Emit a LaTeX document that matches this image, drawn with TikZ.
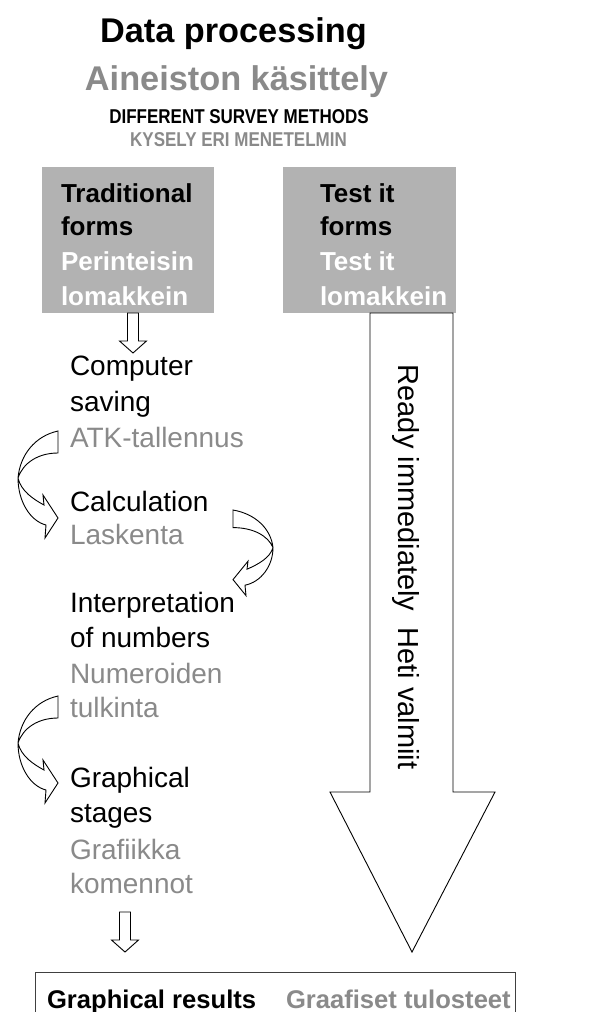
\documentclass[tikz,border=0pt]{standalone}
\usepackage{fontspec}
\usepackage{graphicx}
\setmainfont{Liberation Sans}
\definecolor{boxgray}{RGB}{178,178,178}
\definecolor{txtgray}{RGB}{138,138,138}
\tikzset{
  lbl/.style={anchor=base west, inner sep=0pt, outer sep=0pt},
  ctr/.style={anchor=base, inner sep=0pt, outer sep=0pt},
  titlefont/.style={font=\bfseries\fontsize{34.3}{40}\selectfont},
  subfont/.style={font=\bfseries\fontsize{20}{24}\selectfont},
  boxfont/.style={font=\bfseries\fontsize{26}{30}\selectfont},
  stepfont/.style={font=\fontsize{28}{32}\selectfont},
  resfont/.style={font=\bfseries\fontsize{25.6}{30}\selectfont},
  graybox/.style={fill=boxgray, inner sep=0pt, anchor=north west},
  outl/.style={draw=black, line width=0.9pt, fill=white, line join=miter},
  curvarrow/.pic={
    \draw[outl] (0,0) .. controls (-23,5) and (-38,24) .. (-40,47)
      .. controls (-40,70) and (-28,90) .. (-12,94) -- (-13,107) -- (0,87) -- (-15,64) -- (-14,74)
      .. controls (-25,68) and (-37,60) .. (-40,47)
      .. controls (-35,32) and (-20,22) .. (0,22) -- cycle;
  },
  smallarrow/.pic={
    \draw[outl] (-5.5,0) -- (-5.5,28) -- (-13.5,28) -- (0,40) -- (13.5,28) -- (5.5,28) -- (5.5,0) -- cycle;
  }
}
\begin{document}
\begin{tikzpicture}[x=1pt, y=-1pt]
\clip (0,0) rectangle (589,1012);
\fill[white] (0,0) rectangle (589,1012);

% titles
\node[ctr, titlefont] (t1) at (233.5,42) {Data processing};
\node[ctr, titlefont, text=txtgray] (t2) at (236.5,90) {Aineiston käsittely};
\node[ctr, subfont] (t3) at (239,123) {\scalebox{0.85}[1]{DIFFERENT SURVEY METHODS}};
\node[ctr, subfont, text=txtgray] (t4) at (238.5,146) {\scalebox{0.85}[1]{KYSELY ERI MENETELMIN}};

% gray boxes
\node[graybox, minimum width=172pt, minimum height=146pt] (lbox) at (42,167) {};
\node[graybox, minimum width=173pt, minimum height=146pt] (rbox) at (283,167) {};

\node[lbl, boxfont] (l1) at (61,202) {Traditional};
\node[lbl, boxfont] (l2) at (61,235) {forms};
\node[lbl, boxfont, text=white] (l3) at (61,270) {Perinteisin};
\node[lbl, boxfont, text=white] (l4) at (61,305) {lomakkein};

\node[lbl, boxfont] (r1) at (320,202) {Test it};
\node[lbl, boxfont] (r2) at (320,235) {forms};
\node[lbl, boxfont, text=white] (r3) at (320,270) {Test it};
\node[lbl, boxfont, text=white] (r4) at (320,305) {lomakkein};

% left column steps
\node[lbl, stepfont] (s1a) at (70,375) {Computer};
\node[lbl, stepfont] (s1b) at (70,411) {saving};
\node[lbl, stepfont, text=txtgray] (s1c) at (70,447) {ATK-tallennus};

\node[lbl, stepfont] (s2a) at (70,511) {Calculation};
\node[lbl, stepfont, text=txtgray] (s2b) at (70,544) {Laskenta};

\node[lbl, stepfont] (s3a) at (70,612) {Interpretation};
\node[lbl, stepfont] (s3b) at (70,647) {of numbers};
\node[lbl, stepfont, text=txtgray] (s3c) at (70,683) {Numeroiden};
\node[lbl, stepfont, text=txtgray] (s3d) at (70,717) {tulkinta};

\node[lbl, stepfont] (s4a) at (70,787) {Graphical};
\node[lbl, stepfont] (s4b) at (70,822) {stages};
\node[lbl, stepfont, text=txtgray] (s4c) at (70,859) {Grafiikka};
\node[lbl, stepfont, text=txtgray] (s4d) at (70,893) {komennot};

% small straight arrows
\pic at (133,313) {smallarrow};
\pic at (125,912) {smallarrow};

% curved arrows
\pic at (58,431) {curvarrow};
\pic[xscale=-1, yscale=0.8] at (233,510) {curvarrow};
\pic at (58,696) {curvarrow};

% big arrow
\draw[outl] (370,313) -- (370,792) -- (330,792) -- (412,952) -- (495,792) -- (453,792) -- (453,313) -- cycle;
\node[rotate=-90, anchor=base, inner sep=0pt, font=\fontsize{29}{33}\selectfont] (ready) at (398,567) {Ready immediately\ \ Heti valmiit};

% results box
\node[draw=black!75, line width=1.2pt, inner sep=0pt, anchor=north west, minimum width=480pt, minimum height=80pt] (res) at (35,972) {};
\node[lbl, resfont] (res1) at (47,1008) {Graphical results};
\node[lbl, resfont, text=txtgray] (res2) at (286,1008) {Graafiset tulosteet};
\end{tikzpicture}
\end{document}
